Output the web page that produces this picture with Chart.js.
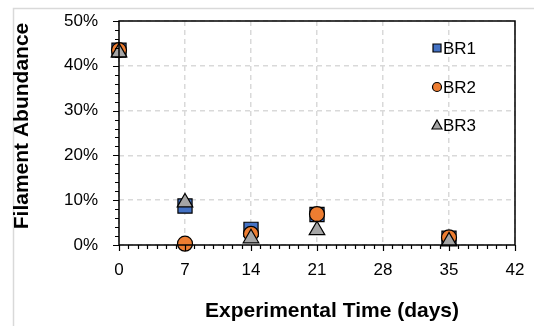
<!DOCTYPE html>
<html>
<head>
<meta charset="utf-8">
<script src="https://cdn.jsdelivr.net/npm/chart.js@4"></script>
<style>
  html, body { margin: 0; padding: 0; background: #fff; }
  #wrap { width: 534px; height: 326px; position: relative; }
</style>
</head>
<body>
<div id="wrap"><canvas id="chart"></canvas></div>
<script>
// values
var days = [0, 7, 14, 21, 35];
var br1 = [43.5, 8.7, 3.5, 6.8, 1.5];
var br2 = [43.5, 0.3, 2.5, 6.9, 1.7];
var br3 = [43.0, 9.5, 1.5, 3.3, 0.8];
var seriesNames = ['BR1', 'BR2', 'BR3'];
var xTicks = [0, 7, 14, 21, 28, 35, 42];
var yTicks = [0, 10, 20, 30, 40, 50];

function toPoints(vals) {
    return days.map(function (d, i) { return { x: d, y: vals[i] }; });
}

var FONT = "'Liberation Sans', Arial, sans-serif";

// frame, tick marks, titles and legend drawn on top
var decor = {
    id: 'decor',
    beforeDraw: function (chart) {
        var c = chart.ctx;
        c.save();
        c.strokeStyle = '#d9d9d9';
        c.lineWidth = 1.5;
        c.beginPath();
        c.moveTo(13.5, 326);
        c.lineTo(13.5, 8.5);
        c.lineTo(534, 8.5);
        c.stroke();
        c.restore();
    },
    afterDatasetsDraw: function (chart) {
        var c = chart.ctx;
        var a = chart.chartArea;
        var xs = chart.scales.x, ys = chart.scales.y;
        c.save();
        c.strokeStyle = '#000';
        c.lineWidth = 1.5;
        c.strokeRect(a.left, a.top, a.right - a.left, a.bottom - a.top);
        c.beginPath();
        for (var d = 0; d <= 42; d++) {
            var px = Math.round(xs.getPixelForValue(d)) + 0.5;
            var len = d % 7 === 0 ? 6 : 4;
            c.moveTo(px, a.bottom);
            c.lineTo(px, a.bottom + len);
        }
        for (var v = 0; v <= 50; v += 2) {
            var py = Math.round(ys.getPixelForValue(v)) + 0.5;
            var l2 = v % 10 === 0 ? 6 : 4;
            c.moveTo(a.left, py);
            c.lineTo(a.left - l2, py);
        }
        c.lineWidth = 1.2;
        c.stroke();

        // axis titles
        c.fillStyle = '#000';
        c.font = 'bold 21px ' + FONT;
        c.textAlign = 'center';
        c.textBaseline = 'middle';
        c.fillText('Experimental Time (days)', 332, 311);
        c.translate(22, 126);
        c.rotate(-Math.PI / 2);
        c.fillText('Filament Abundance', 0, 0);
        c.restore();

        // legend
        c.save();
        c.font = '17px ' + FONT;
        c.textAlign = 'left';
        c.textBaseline = 'middle';
        var ly = [48, 87, 125];
        chart.data.datasets.forEach(function (ds, i) {
            var mx = 437, my = ly[i];
            c.fillStyle = ds.backgroundColor;
            c.strokeStyle = '#000';
            c.lineWidth = 1.2;
            c.beginPath();
            if (i === 0) c.rect(mx - 4, my - 4, 8, 8);
            else if (i === 1) c.arc(mx, my, 4.5, 0, Math.PI * 2);
            else { c.moveTo(mx, my - 5); c.lineTo(mx + 5, my + 4); c.lineTo(mx - 5, my + 4); c.closePath(); }
            c.fill();
            c.stroke();
            c.fillStyle = '#000';
            c.fillText(ds.label, 443, my + 1);
        });
        c.restore();
    }
};

var ctx = document.getElementById('chart');
var myChart = new Chart(ctx, {
    type: 'scatter',
    data: {
        datasets: [{
            label: seriesNames[0],
            data: toPoints(br1),
            order: 3,
            pointStyle: 'rect',
            pointRadius: 10,
            backgroundColor: '#4472C4',
            borderColor: '#000',
            borderWidth: 1.2,
            clip: false
        }, {
            label: seriesNames[1],
            data: toPoints(br2),
            order: 2,
            pointStyle: 'circle',
            pointRadius: 7.5,
            backgroundColor: '#ED7D31',
            borderColor: '#000',
            borderWidth: 1.2,
            clip: false
        }, {
            label: seriesNames[2],
            data: toPoints(br3),
            order: 1,
            pointStyle: 'triangle',
            pointRadius: 9,
            backgroundColor: '#A5A5A5',
            borderColor: '#000',
            borderWidth: 1.2,
            clip: false
        }]
    },
    plugins: [decor],
    options: {
        responsive: true,
        maintainAspectRatio: false,
        animation: false,
        layout: { padding: { top: 21, right: 19, left: 0, bottom: 0 } },
        plugins: {
            legend: { display: false },
            tooltip: { enabled: false }
        },
        scales: {
            x: {
                type: 'linear',
                min: 0,
                max: 42,
                afterFit: function (s) { s.height = 81; s.paddingLeft = 0; s.paddingRight = 0; },
                afterBuildTicks: function (s) { s.ticks = xTicks.map(function (v) { return { value: v }; }); },
                border: { display: false, dash: [5, 4] },
                grid: { color: '#d9d9d9', lineWidth: 1.5, drawTicks: false },
                ticks: { color: '#000', font: { family: FONT, size: 17 }, padding: 15, maxRotation: 0 }
            },
            y: {
                min: 0,
                max: 50,
                afterFit: function (s) { s.width = 119; s.paddingTop = 0; s.paddingBottom = 0; },
                afterBuildTicks: function (s) { s.ticks = yTicks.map(function (v) { return { value: v }; }); },
                border: { display: false, dash: [5, 4] },
                grid: { color: '#d9d9d9', lineWidth: 1.5, drawTicks: false },
                ticks: {
                    color: '#000',
                    font: { family: FONT, size: 17 },
                    padding: 21,
                    callback: function (v) { return v + '%'; }
                }
            }
        }
    }
});
</script>
</body>
</html>
